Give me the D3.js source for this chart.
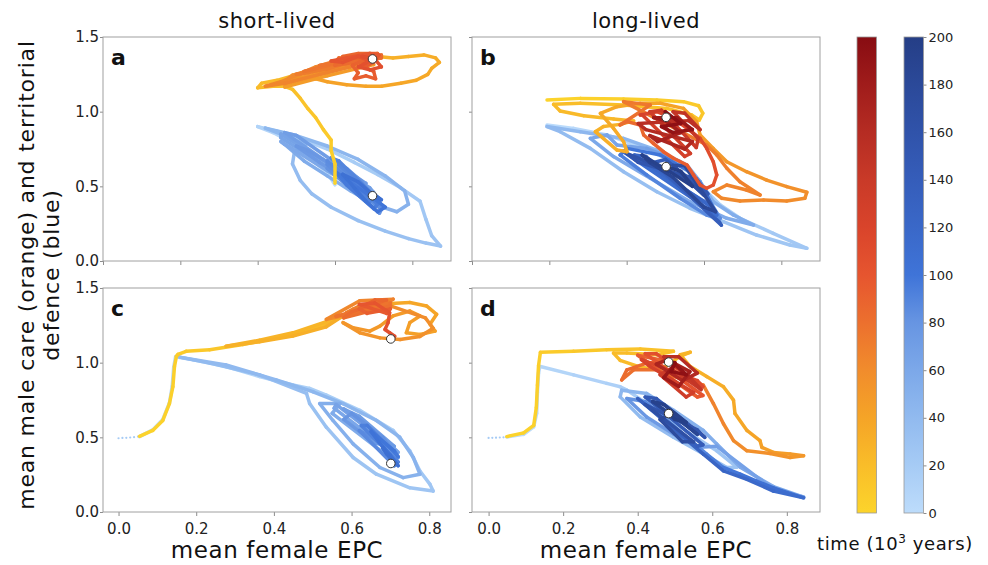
<!DOCTYPE html>
<html>
<head>
<meta charset="utf-8">
<script src="https://cdn.jsdelivr.net/npm/d3@7"></script>
<style>
  body { margin: 0; background: #fff; }
  svg { display: block; }
</style>
</head>
<body>
<div id="chart"></div>
<script>
// [female EPC, male trait, time (10^3 years)]
const aCare = [[0.60,0.52,0],[0.60,0.56,2],[0.60,0.65,4],[0.59,0.74,6],[0.59,0.81,8],[0.57,0.88,10],[0.55,0.96,12],[0.53,1.02,14],[0.51,1.09,16],[0.49,1.15,18],[0.47,1.17,19],[0.44,1.17,20],[0.40,1.16,21],[0.41,1.19,22],[0.45,1.21,23],[0.49,1.24,24],[0.53,1.27,25],[0.58,1.30,26],[0.62,1.32,27],[0.66,1.35,28],[0.71,1.37,29],[0.75,1.36,30],[0.79,1.37,31],[0.83,1.38,32],[0.86,1.36,33],[0.87,1.33,34],[0.85,1.29,35],[0.84,1.25,36],[0.81,1.21,37],[0.77,1.19,38],[0.72,1.17,39],[0.68,1.17,40],[0.63,1.18,41],[0.58,1.20,42],[0.55,1.22,43],[0.52,1.23,44],[0.48,1.22,45],[0.47,1.165,46],[0.58,1.24,47],[0.70,1.315,48],[0.69,1.335,49],[0.58,1.26,50],[0.47,1.185,51],[0.48,1.205,52],[0.59,1.28,53],[0.70,1.355,54],[0.69,1.375,55],[0.58,1.30,56],[0.48,1.225,57],[0.49,1.245,58],[0.58,1.31,59],[0.68,1.385,60],[0.64,1.37,61],[0.55,1.30,62],[0.46,1.20,63],[0.42,1.17,64],[0.47,1.19,65],[0.56,1.25,66],[0.64,1.30,67],[0.62,1.32,68],[0.53,1.26,69],[0.50,1.25,70],[0.58,1.285,71],[0.66,1.345,72],[0.63,1.355,73],[0.55,1.29,74],[0.52,1.27,75],[0.60,1.32,76],[0.56,1.31,77],[0.62,1.34,78],[0.66,1.37,79],[0.61,1.36,80],[0.60,1.33,81],[0.72,1.38,82],[0.72,1.36,83],[0.60,1.31,84],[0.61,1.35,85],[0.71,1.39,86],[0.66,1.39,87],[0.62,1.37,88],[0.68,1.35,89],[0.645,1.31,90],[0.66,1.26,91],[0.65,1.22,92],[0.68,1.24,93],[0.705,1.22,94],[0.70,1.27,95],[0.675,1.30,96],[0.70,1.33,97],[0.714,1.38,98],[0.69,1.39,99],[0.63,1.36,100],[0.59,1.34,101],[0.62,1.33,102],[0.66,1.37,103],[0.69,1.34,104],[0.66,1.30,105],[0.69,1.28,106],[0.72,1.30,107],[0.70,1.36,108],[0.67,1.37,109],[0.697,1.353,110]];
const aDefence = [[0.60,0.51,0],[0.58,0.59,2],[0.53,0.70,4],[0.49,0.79,6],[0.44,0.86,8],[0.40,0.90,10],[0.45,0.87,12],[0.51,0.82,14],[0.58,0.75,16],[0.65,0.66,18],[0.71,0.58,20],[0.77,0.49,22],[0.82,0.40,24],[0.835,0.28,26],[0.85,0.17,28],[0.873,0.10,30],[0.835,0.12,31],[0.79,0.15,32],[0.73,0.20,33],[0.66,0.27,34],[0.59,0.36,35],[0.54,0.45,36],[0.51,0.54,37],[0.49,0.65,38],[0.495,0.73,39],[0.525,0.78,40],[0.47,0.84,41],[0.42,0.89,42],[0.50,0.84,43],[0.58,0.77,44],[0.66,0.68,45],[0.73,0.57,46],[0.78,0.47,47],[0.79,0.38,48],[0.76,0.33,49],[0.70,0.38,50],[0.64,0.47,52],[0.58,0.57,54],[0.52,0.67,56],[0.47,0.78,58],[0.46,0.80,59],[0.58,0.605,60],[0.70,0.41,61],[0.70,0.435,62],[0.58,0.63,63],[0.46,0.825,64],[0.46,0.85,65],[0.58,0.655,66],[0.70,0.46,67],[0.69,0.49,68],[0.57,0.68,69],[0.47,0.86,70],[0.50,0.84,71],[0.60,0.66,72],[0.68,0.52,73],[0.66,0.50,74],[0.56,0.66,75],[0.50,0.77,76],[0.53,0.74,77],[0.62,0.60,78],[0.67,0.53,79],[0.63,0.62,80],[0.58,0.62,81],[0.715,0.32,82],[0.72,0.345,83],[0.58,0.645,84],[0.58,0.67,85],[0.72,0.37,86],[0.715,0.395,87],[0.59,0.69,88],[0.61,0.67,89],[0.70,0.44,90],[0.69,0.40,91],[0.62,0.56,92],[0.64,0.55,93],[0.71,0.38,94],[0.70,0.35,95],[0.63,0.51,96],[0.60,0.60,97],[0.66,0.49,98],[0.70,0.42,99],[0.73,0.36,100],[0.71,0.33,101],[0.68,0.40,102],[0.65,0.49,103],[0.62,0.58,104],[0.66,0.53,105],[0.69,0.46,106],[0.72,0.41,107],[0.70,0.45,108],[0.71,0.42,109],[0.697,0.437,110]];

const bCare = [[0.194,1.078,0],[0.280,1.089,2],[0.392,1.085,4],[0.478,1.078,6],[0.547,1.067,8],[0.586,1.040,10],[0.597,0.989,12],[0.588,0.944,13],[0.568,0.978,14],[0.504,1.022,15],[0.392,1.045,17],[0.280,1.056,19],[0.211,1.049,21],[0.228,1.004,22],[0.289,0.973,23],[0.366,0.951,24],[0.418,0.938,25],[0.383,0.915,27],[0.340,0.900,29],[0.319,0.866,30],[0.375,0.743,32],[0.401,0.732,33],[0.392,0.799,34],[0.366,0.888,35],[0.332,0.989,36],[0.375,1.033,37],[0.435,1.056,38],[0.487,1.056,40],[0.547,1.022,42],[0.581,0.933,44],[0.590,0.844,46],[0.624,0.754,48],[0.659,0.665,50],[0.710,0.598,52],[0.762,0.542,54],[0.814,0.498,56],[0.866,0.460,58],[0.861,0.420,59],[0.814,0.402,60],[0.754,0.408,61],[0.693,0.402,62],[0.646,0.420,63],[0.624,0.464,64],[0.659,0.509,65],[0.710,0.475,66],[0.745,0.442,67],[0.693,0.531,68],[0.659,0.621,69],[0.633,0.710,70],[0.607,0.777,71],[0.392,1.067,72],[0.461,1.045,75],[0.435,1.000,78],[0.383,0.911,81],[0.401,0.933,83],[0.435,0.911,85],[0.444,0.844,87],[0.469,0.788,89],[0.495,0.732,91],[0.521,0.688,93],[0.556,0.643,95],[0.573,0.576,98],[0.590,0.509,101],[0.607,0.487,103],[0.624,0.509,105],[0.633,0.576,107],[0.624,0.665,109],[0.607,0.754,111],[0.590,0.821,113],[0.556,0.888,115],[0.521,0.955,117],[0.478,1.000,119],[0.435,0.978,121],[0.44,0.98,124],[0.55,0.70,127],[0.565,0.72,130],[0.46,1.00,133],[0.49,1.01,136],[0.58,0.76,139],[0.585,0.82,142],[0.52,1.00,145],[0.55,0.99,148],[0.59,0.88,151],[0.56,0.94,154],[0.43,0.92,157],[0.45,0.88,160],[0.57,0.80,163],[0.55,0.75,166],[0.46,0.84,169],[0.48,0.80,172],[0.54,0.86,175],[0.50,0.94,178],[0.47,0.96,181],[0.53,0.96,184],[0.57,0.88,187],[0.52,0.86,190],[0.49,0.90,193],[0.54,0.92,196],[0.50,1.00,198],[0.502,0.962,200]];
const bDefence = [[0.194,0.911,0],[0.263,0.888,3],[0.349,0.844,6],[0.435,0.766,9],[0.521,0.665,12],[0.573,0.576,14],[0.607,0.464,16],[0.642,0.375,18],[0.693,0.286,20],[0.779,0.185,22],[0.866,0.085,24],[0.822,0.107,25],[0.736,0.174,27],[0.650,0.263,29],[0.564,0.353,31],[0.478,0.464,33],[0.392,0.598,35],[0.306,0.754,37],[0.228,0.866,39],[0.194,0.900,40],[0.280,0.866,42],[0.392,0.821,44],[0.478,0.743,46],[0.556,0.643,48],[0.590,0.531,50],[0.624,0.397,52],[0.676,0.308,54],[0.728,0.241,56],[0.659,0.286,57],[0.564,0.397,58],[0.461,0.554,59],[0.366,0.699,60],[0.306,0.821,61],[0.349,0.844,62],[0.375,0.777,64],[0.452,0.754,68],[0.538,0.665,72],[0.590,0.531,76],[0.616,0.397,80],[0.642,0.286,84],[0.607,0.308,86],[0.538,0.420,88],[0.452,0.576,92],[0.383,0.710,96],[0.401,0.754,98],[0.487,0.710,101],[0.564,0.598,104],[0.607,0.442,107],[0.633,0.308,110],[0.39,0.735,112],[0.60,0.40,116],[0.62,0.36,120],[0.42,0.71,124],[0.45,0.70,128],[0.64,0.26,132],[0.645,0.24,136],[0.47,0.66,140],[0.50,0.68,144],[0.61,0.45,148],[0.58,0.55,152],[0.43,0.66,156],[0.40,0.72,160],[0.55,0.56,164],[0.60,0.44,168],[0.52,0.64,172],[0.55,0.64,176],[0.63,0.33,180],[0.60,0.36,183],[0.52,0.56,186],[0.46,0.66,189],[0.44,0.71,192],[0.51,0.60,195],[0.57,0.50,197],[0.54,0.60,199],[0.502,0.632,200]];

const cStart = [[0.00,0.494],[0.01,0.496],[0.02,0.497],[0.03,0.499],[0.04,0.501],[0.05,0.505]];
const cCare = [[0.054,0.507,0],[0.088,0.546,1],[0.114,0.613,2],[0.131,0.726,3],[0.140,0.839,4],[0.144,0.974,5],[0.149,1.042,6],[0.153,1.055,7],[0.174,1.076,9],[0.235,1.087,11],[0.320,1.121,14],[0.406,1.166,17],[0.449,1.189,19],[0.492,1.222,21],[0.535,1.256,23],[0.578,1.313,25],[0.535,1.275,26],[0.449,1.200,27],[0.363,1.150,28],[0.277,1.110,29],[0.363,1.140,30],[0.449,1.178,31],[0.535,1.240,32],[0.604,1.358,34],[0.664,1.392,36],[0.750,1.403,38],[0.793,1.380,39],[0.819,1.324,40],[0.802,1.257,41],[0.815,1.211,42],[0.776,1.189,43],[0.741,1.200,44],[0.750,1.268,45],[0.776,1.313,46],[0.750,1.346,47],[0.707,1.313,48],[0.673,1.245,49],[0.647,1.211,50],[0.604,1.234,51],[0.578,1.268,52],[0.621,1.200,53],[0.673,1.166,54],[0.725,1.155,55],[0.776,1.175,56],[0.810,1.230,57],[0.790,1.300,58],[0.700,1.380,60],[0.535,1.290,62],[0.621,1.414,64],[0.707,1.425,66],[0.664,1.358,68],[0.587,1.335,70],[0.621,1.380,72],[0.690,1.403,74],[0.56,1.31,76],[0.70,1.40,78],[0.70,1.38,80],[0.58,1.30,82],[0.60,1.34,84],[0.69,1.42,86],[0.66,1.42,88],[0.62,1.36,90],[0.64,1.33,92],[0.70,1.36,94],[0.69,1.33,96],[0.62,1.39,98],[0.66,1.40,100],[0.698,1.335,102],[0.694,1.268,104],[0.686,1.222,106],[0.698,1.200,107],[0.711,1.177,108],[0.705,1.165,109],[0.701,1.159,110]];
const cDefence = [[0.054,0.505,0],[0.088,0.550,1],[0.114,0.620,2],[0.131,0.730,3],[0.138,0.840,4],[0.142,0.970,5],[0.147,1.040,6],[0.192,1.019,8],[0.277,0.974,10],[0.363,0.907,12],[0.449,0.850,14],[0.492,0.828,15],[0.535,0.783,16],[0.621,0.681,18],[0.707,0.546,20],[0.750,0.410,22],[0.776,0.275,24],[0.802,0.185,25],[0.810,0.140,26],[0.750,0.162,27],[0.664,0.253,28],[0.604,0.365,29],[0.535,0.568,31],[0.492,0.726,33],[0.484,0.794,34],[0.363,0.918,36],[0.235,0.997,38],[0.157,1.037,39],[0.277,0.985,40],[0.406,0.884,42],[0.501,0.805,43],[0.578,0.726,44],[0.664,0.613,45],[0.724,0.501,46],[0.759,0.365,47],[0.776,0.253,48],[0.733,0.230,49],[0.673,0.298,50],[0.604,0.456,51],[0.552,0.613,52],[0.518,0.726,53],[0.570,0.726,54],[0.55,0.66,56],[0.71,0.34,58],[0.72,0.365,60],[0.555,0.695,62],[0.56,0.72,64],[0.72,0.40,66],[0.70,0.45,68],[0.58,0.69,70],[0.62,0.64,72],[0.71,0.44,74],[0.66,0.46,76],[0.58,0.62,78],[0.60,0.66,80],[0.68,0.50,82],[0.70,0.43,84],[0.62,0.545,86],[0.71,0.31,88],[0.72,0.335,90],[0.625,0.58,92],[0.64,0.58,94],[0.72,0.37,96],[0.71,0.41,98],[0.65,0.54,100],[0.67,0.47,102],[0.70,0.38,104],[0.72,0.31,106],[0.69,0.39,107],[0.68,0.43,108],[0.705,0.34,109],[0.701,0.325,110]];

const dStart = [[0.00,0.496],[0.01,0.497],[0.02,0.498],[0.03,0.499],[0.04,0.500]];
const dCare = [[0.049,0.505,0],[0.094,0.530,1],[0.121,0.580,2],[0.128,0.700,3],[0.131,0.850,4],[0.134,0.980,5],[0.139,1.069,6],[0.228,1.076,9],[0.317,1.087,12],[0.407,1.092,15],[0.496,1.076,18],[0.451,1.053,19],[0.371,1.064,20],[0.335,1.064,21],[0.353,1.015,22],[0.407,0.970,23],[0.460,0.952,24],[0.514,1.042,25],[0.541,1.070,26],[0.514,1.053,27],[0.541,0.974,29],[0.585,0.907,31],[0.630,0.839,33],[0.657,0.749,35],[0.661,0.659,37],[0.693,0.546,39],[0.728,0.478,41],[0.733,0.433,43],[0.764,0.399,45],[0.809,0.388,47],[0.845,0.377,49],[0.809,0.365,52],[0.755,0.392,55],[0.693,0.410,58],[0.657,0.478,61],[0.630,0.591,64],[0.603,0.726,67],[0.576,0.850,70],[0.532,0.884,73],[0.496,0.907,76],[0.451,0.952,78],[0.389,0.952,80],[0.357,0.884,82],[0.371,0.952,84],[0.424,0.997,86],[0.478,1.010,88],[0.40,1.05,92],[0.56,0.77,96],[0.575,0.78,100],[0.42,1.06,104],[0.45,1.06,108],[0.575,0.84,112],[0.56,0.88,116],[0.41,1.02,120],[0.43,0.98,124],[0.55,0.80,128],[0.53,0.77,132],[0.46,0.92,136],[0.49,0.96,140],[0.57,0.82,144],[0.54,0.90,148],[0.47,1.04,152],[0.51,1.04,156],[0.56,0.93,160],[0.52,0.88,164],[0.45,0.99,168],[0.48,1.02,172],[0.54,0.94,176],[0.51,0.84,180],[0.47,0.90,184],[0.50,0.99,188],[0.53,0.92,192],[0.49,0.94,196],[0.50,1.00,198],[0.483,1.004,200]];
const dDefence = [[0.049,0.502,0],[0.094,0.520,1],[0.121,0.570,2],[0.129,0.660,3],[0.131,0.800,4],[0.134,0.930,5],[0.137,0.970,6],[0.139,0.974,7],[0.228,0.918,10],[0.317,0.861,13],[0.353,0.839,15],[0.371,0.816,17],[0.451,0.681,20],[0.541,0.523,23],[0.612,0.410,26],[0.666,0.300,29],[0.639,0.298,31],[0.585,0.377,33],[0.496,0.501,36],[0.407,0.636,39],[0.353,0.771,42],[0.357,0.816,44],[0.424,0.794,46],[0.496,0.681,49],[0.576,0.546,52],[0.612,0.456,55],[0.675,0.300,58],[0.764,0.170,61],[0.845,0.100,64],[0.764,0.150,66],[0.612,0.440,68],[0.567,0.433,70],[0.496,0.523,73],[0.424,0.636,76],[0.371,0.760,79],[0.420,0.740,84],[0.585,0.388,92],[0.630,0.298,96],[0.675,0.253,100],[0.719,0.207,104],[0.764,0.162,108],[0.845,0.095,112],[0.764,0.140,116],[0.693,0.219,120],[0.630,0.275,124],[0.576,0.388,128],[0.40,0.76,132],[0.56,0.44,136],[0.575,0.45,140],[0.42,0.77,144],[0.45,0.76,148],[0.58,0.50,152],[0.56,0.55,156],[0.42,0.72,160],[0.44,0.68,164],[0.55,0.47,168],[0.52,0.47,172],[0.46,0.62,176],[0.49,0.66,180],[0.56,0.52,184],[0.53,0.58,188],[0.44,0.74,191],[0.47,0.72,194],[0.53,0.60,196],[0.50,0.62,198],[0.48,0.67,199],[0.483,0.659,200]];

const panelLetters = ['a', 'b', 'c', 'd'];
const columnTitles = ['short-lived', 'long-lived'];
const xTickValues = [0.0, 0.2, 0.4, 0.6, 0.8];
const yTickValues = [0.0, 0.5, 1.0, 1.5];
const timeTickValues = [0, 20, 40, 60, 80, 100, 120, 140, 160, 180, 200];

// colour ramps (sampled from the colour bars)
const careColours = ['#fcd42b','#f9bd29','#f5a427','#f18c2c','#ec702e','#e6552f','#d9442b','#c93a28','#b52c23','#a01c1b','#880c12'];
const defenceColours = ['#bddcfb','#a6cbf5','#91baef','#7ca8e9','#6795e2','#3f74d8','#3a68c8','#355dba','#3053aa','#2b4999','#253e86'];
const careColour = d3.scaleLinear().domain(timeTickValues).range(careColours).clamp(true);
const defenceColour = d3.scaleLinear().domain(timeTickValues).range(defenceColours).clamp(true);

const width = 988, height = 565;
const colX = [[103, 451], [472, 820]];
const rowY = [[37, 261], [288, 512]];
const font = '"DejaVu Sans", Verdana, sans-serif';

const panels = [
  { care: aCare, defence: aDefence, start: null,   xDomain: [0, 0.9],         col: 0, row: 0 },
  { care: bCare, defence: bDefence, start: null,   xDomain: [0, 0.9],         col: 1, row: 0 },
  { care: cCare, defence: cDefence, start: cStart, xDomain: [-0.04, 0.856],   col: 0, row: 1 },
  { care: dCare, defence: dDefence, start: dStart, xDomain: [-0.0445, 0.889], col: 1, row: 1 }
];

const svg = d3.select('#chart').append('svg')
  .attr('width', width).attr('height', height)
  .style('font-family', font);

function styleAxis(sel, size) {
  sel.select('.domain').remove();
  sel.selectAll('.tick line').attr('stroke', '#8c8c8c');
  sel.selectAll('.tick text').attr('fill', '#222').attr('font-size', size).attr('font-family', font);
}

function drawTrajectory(g, pts, x, y, colour) {
  g.append('g').selectAll('line')
    .data(d3.pairs(pts))
    .join('line')
    .attr('x1', d => x(d[0][0])).attr('y1', d => y(d[0][1]))
    .attr('x2', d => x(d[1][0])).attr('y2', d => y(d[1][1]))
    .attr('stroke', d => colour((d[0][2] + d[1][2]) / 2))
    .attr('stroke-width', 3.5)
    .attr('stroke-linecap', 'round');
}

panels.forEach((p, i) => {
  const [x0, x1] = colX[p.col];
  const [y0, y1] = rowY[p.row];
  const x = d3.scaleLinear().domain(p.xDomain).range([x0, x1]);
  const y = d3.scaleLinear().domain([0, 1.5]).range([y1, y0]);
  const g = svg.append('g');

  g.append('clipPath').attr('id', 'clip' + i)
    .append('rect').attr('x', x0).attr('y', y0).attr('width', x1 - x0).attr('height', y1 - y0);

  g.append('g').attr('transform', `translate(0,${y1})`)
    .call(d3.axisBottom(x).tickValues(xTickValues).tickSize(4).tickPadding(7)
      .tickFormat(p.row === 1 ? d3.format('.1f') : ''))
    .call(styleAxis, 15);
  g.append('g').attr('transform', `translate(${x0},0)`)
    .call(d3.axisLeft(y).tickValues(yTickValues).tickSize(3).tickPadding(1)
      .tickFormat(p.col === 0 ? d3.format('.1f') : ''))
    .call(styleAxis, 15);

  const plot = g.append('g').attr('clip-path', `url(#clip${i})`);
  if (p.start) {
    plot.selectAll('circle.start').data(p.start).join('circle')
      .attr('cx', d => x(d[0])).attr('cy', d => y(d[1]))
      .attr('r', 1.1).attr('fill', defenceColours[1]);
  }
  drawTrajectory(plot, p.defence, x, y, defenceColour);
  drawTrajectory(plot, p.care, x, y, careColour);

  [p.care, p.defence].forEach(s => {
    const last = s[s.length - 1];
    g.append('circle').attr('cx', x(last[0])).attr('cy', y(last[1]))
      .attr('r', 4.3).attr('fill', '#fff').attr('stroke', '#333').attr('stroke-width', 1);
  });

  g.append('rect').attr('x', x0).attr('y', y0).attr('width', x1 - x0).attr('height', y1 - y0)
    .attr('fill', 'none').attr('stroke', '#a0a0a0').attr('stroke-width', 1);

  g.append('text').attr('x', x0 + 8).attr('y', y0 + 28)
    .attr('font-size', 22).attr('font-weight', 'bold').attr('fill', '#111')
    .text(panelLetters[i]);
});

// column titles and x labels
columnTitles.forEach((t, i) => {
  const cx = (colX[i][0] + colX[i][1]) / 2;
  svg.append('text').attr('x', cx).attr('y', 28)
    .attr('text-anchor', 'middle').attr('font-size', 21).attr('letter-spacing', 0.5)
    .attr('fill', '#111').text(t);
  svg.append('text').attr('x', cx).attr('y', 558)
    .attr('text-anchor', 'middle').attr('font-size', 23).attr('letter-spacing', 0.6)
    .attr('fill', '#111').text('mean female EPC');
});

// y label
const yl = svg.append('text').attr('transform', 'translate(0,275) rotate(-90)')
  .attr('text-anchor', 'middle').attr('font-size', 22).attr('letter-spacing', 0.8).attr('fill', '#111');
yl.append('tspan').attr('x', 0).attr('y', 34).text('mean male care (orange) and territorial');
yl.append('tspan').attr('x', 0).attr('y', 59).text('defence (blue)');

// colour bars
const tScale = d3.scaleLinear().domain([0, 200]).range([513, 37]);
const defs = svg.append('defs');
[['careGrad', careColours], ['defGrad', defenceColours]].forEach(([id, cols]) => {
  const grad = defs.append('linearGradient').attr('id', id)
    .attr('x1', 0).attr('y1', 1).attr('x2', 0).attr('y2', 0);
  grad.selectAll('stop').data(cols).join('stop')
    .attr('offset', (d, k) => k / (cols.length - 1))
    .attr('stop-color', d => d);
});
[[857, 'careGrad'], [904, 'defGrad']].forEach(([bx, id]) => {
  svg.append('rect').attr('x', bx).attr('y', tScale(200)).attr('width', 19.5)
    .attr('height', tScale(0) - tScale(200))
    .attr('fill', `url(#${id})`).attr('stroke', '#9a9a9a').attr('stroke-width', 0.8);
});
svg.append('g').attr('transform', 'translate(923.5,0)')
  .call(d3.axisRight(tScale).tickValues(timeTickValues).tickSize(3).tickPadding(2))
  .call(styleAxis, 13);

const tl = svg.append('text').attr('x', 895).attr('y', 550)
  .attr('text-anchor', 'middle').attr('font-size', 18).attr('letter-spacing', 0.6).attr('fill', '#111');
tl.append('tspan').text('time (10');
tl.append('tspan').attr('dy', -7).attr('font-size', 12).text('3');
tl.append('tspan').attr('dy', 7).text(' years)');
</script>
</body>
</html>
